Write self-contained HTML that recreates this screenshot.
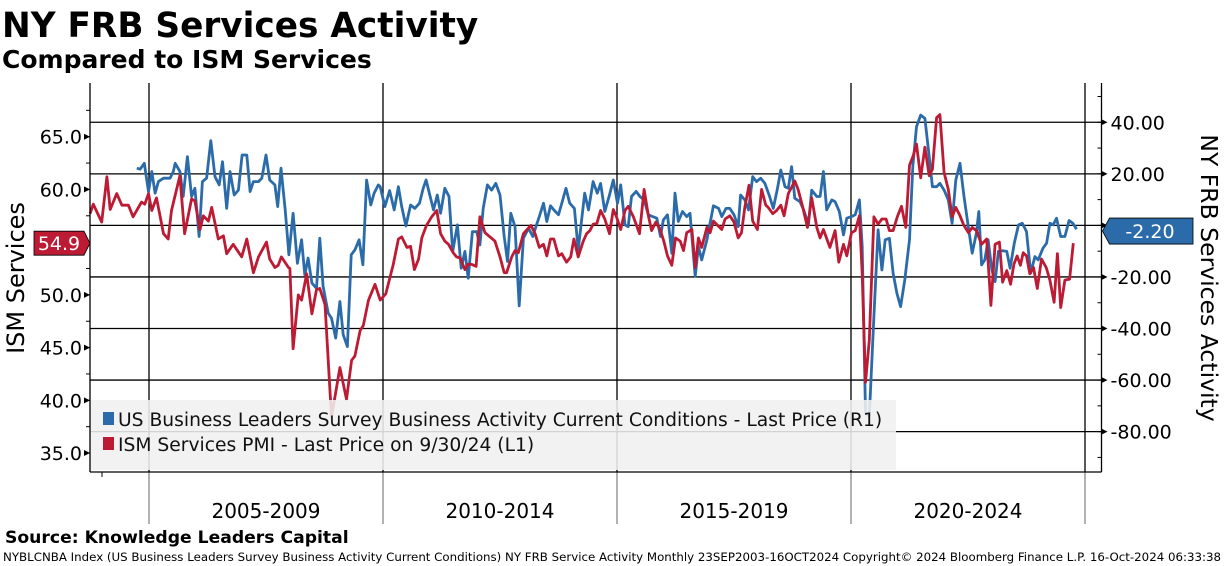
<!DOCTYPE html>
<html><head><meta charset="utf-8"><style>
body{margin:0;background:#fff;}
svg{display:block;font-family:"DejaVu Sans","Liberation Sans",sans-serif;}
</style></head><body>
<svg id="chart" width="1224" height="566" viewBox="0 0 1224 566">
<text x="2" y="37" font-size="34.3" font-weight="bold" fill="#000">NY FRB Services Activity</text>
<text x="2" y="68" font-size="25" font-weight="bold" fill="#000">Compared to ISM Services</text>
<g id="grid"></g>
<g id="series"></g>
<g id="axes"></g>
<text x="5" y="543" font-size="17.2" font-weight="bold">Source: Knowledge Leaders Capital</text>
<text x="3" y="561" font-size="11.8" textLength="1218" lengthAdjust="spacing">NYBLCNBA Index (US Business Leaders Survey Business Activity Current Conditions) NY FRB Service Activity  Monthly 23SEP2003-16OCT2024 Copyright© 2024 Bloomberg Finance L.P.  16-Oct-2024 06:33:38</text>
</svg>
<script>
const leftTicks = [35, 40, 45, 50, 55, 60, 65];
const rightTicks = [40, 20, 0, -20, -40, -60, -80];
const periodLabels = ["2005-2009", "2010-2014", "2015-2019", "2020-2024"];
const periodStarts = [2005, 2010, 2015, 2020, 2025];
const ismLast = 54.9;
const nyLast = -2.20;
const ismData = [[2003.74,57.7],[2003.81,58.6],[2003.99,56.9],[2004.10,61.2],[2004.17,58.1],[2004.31,59.6],[2004.42,58.5],[2004.56,58.5],[2004.66,57.4],[2004.84,58.8],[2004.91,58.6],[2004.99,59.6],[2005.06,58.0],[2005.16,59.2],[2005.31,55.8],[2005.41,55.3],[2005.48,58.0],[2005.66,61.3],[2005.76,55.8],[2005.91,59.1],[2005.98,58.9],[2006.09,56.2],[2006.16,57.5],[2006.27,57.0],[2006.34,58.3],[2006.48,55.3],[2006.59,55.6],[2006.66,53.9],[2006.80,54.8],[2006.98,53.6],[2007.09,55.3],[2007.23,52.1],[2007.34,53.6],[2007.51,55.0],[2007.58,53.4],[2007.69,52.6],[2007.76,52.8],[2007.83,53.6],[2007.98,52.6],[2008.01,52.5],[2008.08,44.9],[2008.19,50.0],[2008.26,49.5],[2008.37,52.0],[2008.48,48.2],[2008.58,50.5],[2008.65,50.6],[2008.76,49.1],[2008.90,38.4],[2009.08,43.1],[2009.22,40.1],[2009.33,43.8],[2009.40,44.2],[2009.51,46.6],[2009.58,47.1],[2009.69,49.5],[2009.83,51.0],
[2009.94,49.5],[2010.06,50.1],[2010.22,52.9],[2010.33,55.3],[2010.40,55.5],[2010.51,54.5],[2010.59,54.6],[2010.67,52.4],[2010.76,53.4],[2010.83,55.4],[2010.93,56.6],[2011.04,57.4],[2011.15,58.0],[2011.23,55.8],[2011.32,55.1],[2011.40,54.8],[2011.50,54.0],[2011.57,53.6],[2011.65,53.5],[2011.75,52.4],[2011.82,52.9],[2011.89,52.9],[2011.99,52.7],[2012.07,57.4],[2012.18,55.9],[2012.39,55.1],[2012.50,53.6],[2012.59,52.1],[2012.64,52.1],[2012.75,53.6],[2012.82,54.2],[2012.89,54.0],[2013.00,55.8],[2013.16,56.6],[2013.25,55.8],[2013.34,54.5],[2013.43,54.8],[2013.50,53.7],[2013.58,55.3],[2013.65,55.3],[2013.75,53.7],[2013.82,53.9],[2013.92,53.1],[2014.01,53.6],[2014.08,55.3],[2014.17,53.6],[2014.28,55.1],[2014.35,55.8],[2014.42,56.1],[2014.49,56.7],[2014.57,56.8],[2014.65,58.0],[2014.74,57.2],[2014.84,55.8],[2014.92,58.1],[2014.99,57.4],[2015.08,56.2],[2015.17,58.0],[2015.24,58.4],[2015.35,57.4],[2015.48,55.8],[2015.58,60.0],[2015.67,57.5],[2015.74,56.1],[2015.83,56.9],[2015.92,56.2],[2016.00,55.1],[2016.08,53.7],[2016.17,52.8],[2016.25,55.4],[2016.35,55.1],
[2016.42,54.2],[2016.49,55.9],[2016.60,56.2],[2016.67,52.6],[2016.74,55.4],[2016.81,54.5],[2016.92,56.4],[2016.99,55.9],[2017.06,57.0],[2017.24,56.2],[2017.31,57.2],[2017.41,57.5],[2017.50,56.9],[2017.59,55.4],[2017.66,55.9],[2017.73,58.3],[2017.82,60.4],[2017.90,57.0],[2018.00,56.2],[2018.09,60.0],[2018.18,58.5],[2018.23,58.3],[2018.33,57.7],[2018.41,58.0],[2018.50,58.5],[2018.57,57.5],[2018.66,59.6],[2018.80,60.8],[2018.87,60.0],[2018.97,58.3],[2019.07,56.4],[2019.16,59.2],[2019.27,56.4],[2019.34,55.4],[2019.41,56.2],[2019.55,54.5],[2019.66,56.1],[2019.74,53.1],[2019.84,54.8],[2019.91,53.7],[2020.01,55.9],[2020.09,56.1],[2020.18,57.5],[2020.24,52.0],[2020.31,41.7],[2020.39,45.7],[2020.49,57.4],[2020.58,56.7],[2020.66,57.2],[2020.75,57.2],[2020.82,56.1],[2020.90,56.1],[2020.99,57.4],[2021.08,58.4],[2021.17,56.4],[2021.25,62.3],[2021.33,63.2],[2021.40,64.3],[2021.49,61.1],[2021.58,64.0],[2021.67,61.3],[2021.74,61.9],[2021.83,66.8],[2021.90,67.1],[2021.99,61.6],[2022.08,60.0],[2022.16,57.4],[2022.24,58.3],[2022.33,57.5],[2022.41,56.6],[2022.51,55.9],[2022.59,56.4],[2022.68,56.1],[2022.79,54.8],[2022.90,55.3],[2022.99,49.0],[2023.08,54.8],[2023.17,55.0],[2023.24,51.2],[2023.33,52.3],[2023.41,51.0],[2023.48,52.9],[2023.55,53.7],[2023.62,52.8],[2023.68,54.0],[2023.75,53.7],[2023.82,52.0],[2023.90,52.6],[2023.98,50.6],[2024.07,53.4],[2024.17,52.6],[2024.25,51.4],[2024.34,49.3],[2024.41,53.9],[2024.48,48.8],[2024.57,51.4],[2024.67,51.5],[2024.75,54.9]];
const nyData = [[2004.74,22.2],[2004.81,21.8],[2004.90,24.1],[2004.99,13.1],[2005.06,20.9],[2005.13,12.5],[2005.20,17.0],[2005.31,18.3],[2005.45,18.3],[2005.52,20.9],[2005.56,24.1],[2005.66,20.9],[2005.73,11.2],[2005.82,26.7],[2005.91,11.2],[2005.98,14.4],[2006.07,-4.3],[2006.14,17.0],[2006.23,18.3],[2006.32,32.9],[2006.41,18.9],[2006.50,15.7],[2006.57,24.7],[2006.66,6.6],[2006.73,20.9],[2006.82,11.8],[2006.91,13.7],[2006.99,27.3],[2007.09,27.3],[2007.16,13.1],[2007.23,17.0],[2007.34,17.0],[2007.41,18.3],[2007.50,27.3],[2007.58,17.6],[2007.69,15.7],[2007.75,7.3],[2007.82,22.2],[2007.91,6.0],[2007.99,-11.4],[2008.08,4.7],[2008.17,-14.7],[2008.26,-5.6],[2008.33,-19.2],[2008.40,-12.7],[2008.48,-22.4],[2008.58,-24.4],[2008.65,-5.0],[2008.72,-23.7],[2008.83,-34.0],[2008.90,-36.0],[2008.99,-43.7],[2009.08,-29.5],[2009.15,-42.4],[2009.24,-47.0],[2009.32,-11.4],[2009.40,-9.5],[2009.49,-5.6],[2009.57,-15.3],[2009.65,17.6],[2009.74,7.9],[2009.81,12.5],[2009.90,15.7],
[2009.94,15.0],[2010.04,7.3],[2010.14,13.5],[2010.24,6.0],[2010.33,15.0],[2010.40,7.3],[2010.49,-0.2],[2010.59,7.9],[2010.68,6.6],[2010.78,8.6],[2010.86,14.4],[2010.92,17.6],[2011.00,11.8],[2011.08,6.0],[2011.16,11.8],[2011.23,4.7],[2011.32,14.4],[2011.41,11.2],[2011.49,-10.1],[2011.59,0.2],[2011.67,-16.6],[2011.75,-10.1],[2011.82,-20.5],[2011.91,-2.4],[2012.00,-2.4],[2012.07,-7.6],[2012.14,6.6],[2012.23,15.7],[2012.32,13.7],[2012.41,16.3],[2012.50,11.8],[2012.59,-4.3],[2012.66,-14.0],[2012.73,4.7],[2012.82,-0.5],[2012.91,-31.2],[2013.00,-5.0],[2013.11,-1.1],[2013.20,-4.3],[2013.28,0.2],[2013.34,3.4],[2013.43,8.6],[2013.50,1.5],[2013.58,7.6],[2013.65,6.0],[2013.75,4.1],[2013.82,8.6],[2013.91,14.4],[2013.99,8.6],[2014.09,6.6],[2014.17,-9.5],[2014.31,12.5],[2014.39,6.0],[2014.49,17.0],[2014.58,12.5],[2014.65,16.3],[2014.74,5.4],[2014.84,11.8],[2014.92,17.6],[2015.01,8.6],[2015.08,15.7],[2015.17,0.2],[2015.24,-0.5],[2015.31,11.2],[2015.41,13.2],[2015.49,11.2],[2015.58,9.9],[2015.67,4.1],[2015.76,3.4],[2015.85,2.8],[2015.93,-4.3],[2015.99,2.1],[2016.08,4.1],[2016.17,-10.8],[2016.24,12.5],[2016.31,1.5],[2016.40,5.4],[2016.49,3.4],[2016.56,4.7],
[2016.67,-19.8],[2016.74,-8.2],[2016.81,-13.4],[2016.92,-5.6],[2017.06,7.6],[2017.17,6.6],[2017.24,3.4],[2017.33,6.6],[2017.41,6.6],[2017.50,4.1],[2017.59,-0.5],[2017.64,11.8],[2017.73,9.9],[2017.81,6.0],[2017.90,18.9],[2017.98,17.0],[2018.07,18.3],[2018.16,16.3],[2018.26,11.2],[2018.34,6.6],[2018.43,14.4],[2018.50,21.5],[2018.59,15.0],[2018.66,14.4],[2018.73,22.8],[2018.80,10.5],[2018.91,9.2],[2018.99,6.0],[2019.09,0.2],[2019.16,13.7],[2019.27,11.2],[2019.34,11.2],[2019.41,20.9],[2019.48,6.0],[2019.59,9.9],[2019.66,9.2],[2019.75,5.4],[2019.84,-3.7],[2019.91,2.8],[2020.01,3.4],[2020.09,4.1],[2020.18,9.9],[2020.24,-8.2],[2020.31,-72.8],[2020.39,-74.1],[2020.49,-35.3],[2020.58,-1.7],[2020.66,-17.3],[2020.73,-5.6],[2020.82,-5.0],[2020.90,-18.5],[2020.98,-26.3],[2021.06,-31.5],[2021.15,-21.1],[2021.25,-5.6],[2021.32,22.8],[2021.40,38.3],[2021.49,42.8],[2021.58,41.5],[2021.67,26.7],[2021.74,15.0],[2021.83,15.0],[2021.90,16.3],[2021.99,13.7],[2022.08,9.9],[2022.16,0.8],[2022.24,17.6],[2022.33,24.1],[2022.41,11.8],[2022.51,-1.1],[2022.59,-10.8],[2022.68,-3.0],[2022.73,5.4],[2022.79,-15.3],[2022.86,-13.4],[2022.93,-5.6],[2023.01,-17.3],[2023.08,-21.8],[2023.15,-10.1],[2023.24,-9.8],[2023.33,-10.1],[2023.40,-16.6],[2023.49,-6.9],[2023.58,0.2],[2023.66,0.8],[2023.75,-2.4],[2023.84,-18.5],[2023.93,-12.1],[2024.00,-13.4],[2024.10,-8.9],[2024.18,-6.9],[2024.25,0.8],[2024.32,0.2],[2024.39,2.8],[2024.48,-4.3],[2024.57,-4.3],[2024.66,1.9],[2024.74,0.8],[2024.82,-1.5]];

const NS = "http://www.w3.org/2000/svg";
const L = 90, R = 1101.5, T = 83, B = 472;
function xS(t){ return 149 + (t - 2005) * 46.8; }
function yL(v){ return 136.7 + (65 - v) * 10.545; }
function yR(v){ return 225.4 - v * 2.578; }
function mk(tag, attrs, parent){ const e=document.createElementNS(NS,tag); for(const k in attrs) e.setAttribute(k,attrs[k]); parent.appendChild(e); return e; }
const grid=document.getElementById('grid'), ser=document.getElementById('series'), ax=document.getElementById('axes');

rightTicks.forEach(v=>{
  const l=mk('line',{x1:L,x2:R,y1:yR(v),y2:yR(v),stroke:'#000','stroke-width':1.3},grid);
  
  
});
periodStarts.forEach(t=>{
  const x=xS(t);
  const l=mk('line',{x1:x,x2:x,y1:T,y2:B,stroke:'#000','stroke-width':1.3},grid);
  
  
  const l2=mk('line',{x1:x,x2:x,y1:B,y2:524,stroke:'#888','stroke-width':1.3},grid);
  
  
});
periodLabels.forEach((s,i)=>{
  const tx=mk('text',{x:(xS(periodStarts[i])+xS(periodStarts[i+1]))/2,y:518,'font-size':20,'text-anchor':'middle'},ax);
  tx.textContent=s;
  
  
});

function pathOf(data, yf){ return data.map((p,i)=>(i?'L':'M')+xS(p[0]).toFixed(1)+' '+yf(p[1]).toFixed(1)).join(' '); }
const nyPath=mk('path',{d:pathOf(nyData,yR),fill:'none',stroke:'#2b6ba9','stroke-width':2.8,'stroke-linejoin':'round'},ser);


const ismPath=mk('path',{d:pathOf(ismData,yL),fill:'none',stroke:'#bd1a34','stroke-width':2.8,'stroke-linejoin':'round'},ser);



// legend
const lg=mk('g',{},ax);


mk('rect',{x:L,y:400,width:806,height:70,fill:'#f0f0f0','fill-opacity':0.88},lg);
[['#2b6ba9','US Business Leaders Survey Business Activity Current Conditions - Last Price (R1)',425,'legend-entry-ny-frb'],
 ['#bd1a34','ISM Services PMI - Last Price on 9/30/24 (L1)',450,'legend-entry-ism']].forEach(e=>{
  const g=mk('g',{},lg);
  
  
  mk('rect',{x:103,y:e[2]-13,width:11,height:13,fill:e[0]},g);
  const t=mk('text',{x:118,y:e[2]+1,'font-size':18.7,fill:'#111'},g);
  t.textContent=e[1];
});

// axes
mk('line',{x1:L,x2:L,y1:T,y2:B,stroke:'#000','stroke-width':1.3},ax);
mk('line',{x1:L,x2:R,y1:B,y2:B,stroke:'#000','stroke-width':1.3},ax);
mk('line',{x1:R,x2:R,y1:T,y2:B,stroke:'#000','stroke-width':1.3},ax);
for(let v=32.5; v<=69; v+=2.5){
  const y=yL(v); if(y<T||y>B) continue;
  mk('line',{x1:L-4,x2:L,y1:y,y2:y,stroke:'#000','stroke-width':1},ax);
}
leftTicks.forEach(v=>{
  const y=yL(v);
  mk('path',{d:`M${L-6} ${y-3} L${L} ${y} L${L-6} ${y+3}Z`,fill:'#000'},ax);
  const t=mk('text',{x:L-8,y:y+7,'font-size':19,'text-anchor':'end'},ax);
  t.textContent=v.toFixed(1);
  
  
});
for(let v=50; v>=-90; v-=10){
  const y=yR(v); if(y<T||y>B) continue;
  mk('line',{x1:R,x2:R-4,y1:y,y2:y,stroke:'#000','stroke-width':1},ax);
}
rightTicks.forEach(v=>{
  const y=yR(v);
  mk('path',{d:`M${R} ${y-3} L${R+6} ${y} L${R} ${y+3}Z`,fill:'#000'},ax);
  const t=mk('text',{x:R+9,y:y+7,'font-size':19},ax);
  t.textContent=v.toFixed(2);
  
  
});
mk('line',{x1:102,x2:102,y1:B,y2:B+5,stroke:'#000','stroke-width':1},ax);

// axis titles
const lt=mk('text',{x:0,y:0,'font-size':24,'text-anchor':'middle',transform:`translate(24,278) rotate(-90)`},ax);
lt.textContent='ISM Services';


const rt=mk('text',{x:0,y:0,'font-size':23.5,'text-anchor':'middle',transform:`translate(1201,278) rotate(90)`},ax);
rt.textContent='NY FRB Services Activity';



// last-value tags
const yi=yL(ismLast);
const tg1=mk('g',{},ax);


mk('path',{d:`M34 ${yi-12} L84 ${yi-12} L90 ${yi} L84 ${yi+12} L34 ${yi+12}Z`,fill:'#bd1a34',stroke:'#000','stroke-width':0.8},tg1);
const t1=mk('text',{x:59,y:yi+7,'font-size':19,fill:'#fff','text-anchor':'middle'},tg1);
t1.textContent=ismLast.toFixed(1);
const yn=yR(nyLast);
const tg2=mk('g',{},ax);


mk('path',{d:`M${R+1} ${yn} L${R+8} ${yn-13} L1193 ${yn-13} L1193 ${yn+13} L${R+8} ${yn+13}Z`,fill:'#2b6ba9',stroke:'#000','stroke-width':0.8},tg2);
const t2=mk('text',{x:1150,y:yn+7,'font-size':19,fill:'#fff','text-anchor':'middle'},tg2);
t2.textContent=nyLast.toFixed(2);
</script>
</body></html>
